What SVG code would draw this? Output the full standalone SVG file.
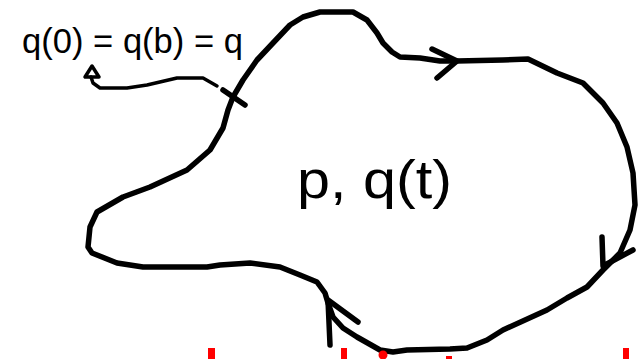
<svg xmlns="http://www.w3.org/2000/svg" width="641" height="359" viewBox="0 0 641 359">
<style>
.ink{fill:none;stroke:#000;stroke-width:5.5;stroke-linecap:round;stroke-linejoin:round}
.thin{fill:none;stroke:#000;stroke-width:3.5;stroke-linecap:round;stroke-linejoin:round}
.lbl{font-family:"Liberation Sans",Arial,sans-serif;fill:#000}
.red{fill:#ff0000}
</style>
<rect width="641" height="359" fill="#fff"/>
<g id="curve">
<path class="ink" d="M233,97 L243,80 L257,60 L273,43 L290,25 L303,17 L320,12 L353,12 L367,20 L377,33 L383,43 L392,52 L400,57 L420,58 L440,61 L457,61 L503,60 L528,59 L557,73 L583,83 L603,103 L617,123 L627,147 L633,173 L635,205 L630,230 L620,253 L603,270 L587,287 L567,298 L547,310 L503,330 L487,340 L467,348 L450,349 L407,350 L393,352 L380,350 L357,337 L343,328 L333,317 L328,303 L325,293 L317,282 L300,275 L280,267 L250,263 L220,265 L207,267 L143,267 L117,263 L92,253 L88,247 L90,227 L97,212 L123,197 L150,187 L187,170 L210,150 L223,128 L228,110 Z"/>
</g>
<g id="connectors">
<path class="ink" d="M223,90 L245,105"/>
<path class="thin" d="M217,86 L203,78 L177,78 L147,85 L127,88 L100,88 L93,83 L91,77"/>
<path class="thin" d="M92,66 L85,77 L99,77 Z" fill="#fff"/>
<path class="ink" d="M432,49 L457,61 L437,78"/>
<path class="ink" d="M602,237 L603,266 L633,250"/>
<path class="ink" d="M330,345 L328,300 L358,322"/>
</g>
<g id="labels">
<text class="lbl" x="22" y="53" font-size="35" textLength="221" lengthAdjust="spacingAndGlyphs">q(0) = q(b) = q</text>
<text class="lbl" x="297" y="198" font-size="54" textLength="155" lengthAdjust="spacingAndGlyphs">p, q(t)</text>
</g>
<g id="marks">
<rect class="red" x="208" y="348" width="7" height="11"/>
<rect class="red" x="341" y="348" width="6" height="11"/>
<circle class="red" cx="383" cy="355" r="4.5"/>
<rect class="red" x="446" y="356" width="6" height="3"/>
<rect class="red" x="623" y="348" width="6" height="11"/>
</g>
</svg>
